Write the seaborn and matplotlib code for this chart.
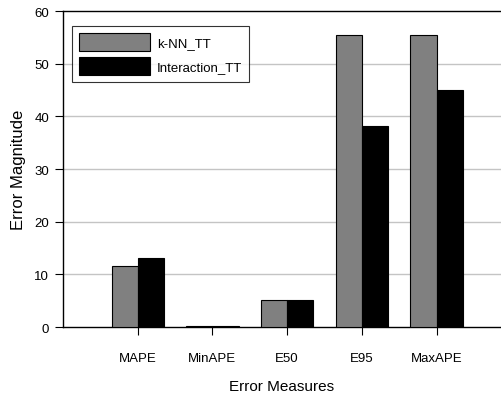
import pandas as pd
import matplotlib
matplotlib.use("Agg")
import matplotlib.pyplot as plt
import seaborn as sns

measures = ["MAPE", "MinAPE", "E50", "E95", "MaxAPE"]
knn_tt = [11.5, 0.15, 5.2, 55.4, 55.4]
interaction_tt = [13.2, 0.15, 5.2, 38.1, 45.0]
methods = ["k-NN_TT", "Interaction_TT"]

df = pd.DataFrame({
    "measure": measures * 2,
    "value": knn_tt + interaction_tt,
    "method": [methods[0]] * len(measures) + [methods[1]] * len(measures),
})

sns.set_style("white")
plt.rcParams["font.family"] = ["Liberation Sans", "DejaVu Sans"]
plt.rcParams["text.color"] = "black"
plt.rcParams["axes.labelcolor"] = "black"
plt.rcParams["xtick.color"] = "black"
plt.rcParams["ytick.color"] = "black"

fig = plt.figure(figsize=(5.01, 4.02), dpi=100)
ax = fig.add_axes([0.1257, 0.184, 0.874, 0.786])

sns.barplot(data=df, x="measure", y="value", hue="method", order=measures,
            hue_order=methods, palette=["#808080", "#000000"], width=0.7,
            edgecolor="black", linewidth=0.8, saturation=1, ax=ax, zorder=3)

ax.set_xlim(-1.0, 4.86)
ax.set_ylim(0, 60)
ax.set_yticks(range(0, 61, 10))
for y in range(10, 60, 10):
    ax.axhline(y, color="#c4c4c4", lw=1, zorder=1)

for s in ["top", "left", "bottom"]:
    ax.spines[s].set_color("black")
    ax.spines[s].set_linewidth(1)
ax.spines["right"].set_visible(False)

ax.tick_params(axis="y", direction="out", length=6, width=0.8, labelsize=9.5, pad=4, left=True)
ax.tick_params(axis="x", direction="out", length=6, width=0.8, labelsize=9.5, pad=12, bottom=True)

ax.set_xlabel("Error Measures", fontsize=11, labelpad=11)
ax.set_ylabel("Error Magnitude", fontsize=12, labelpad=6)

leg = ax.legend(loc="upper left", bbox_to_anchor=(0.02, 0.953), fontsize=9.5,
                frameon=True, fancybox=False, edgecolor="black",
                handlelength=5.4, handleheight=1.75, borderpad=0.55,
                labelspacing=0.4, handletextpad=0.5, borderaxespad=0)
leg.get_frame().set_linewidth(0.8)

fig.savefig("out.png", dpi=100)
